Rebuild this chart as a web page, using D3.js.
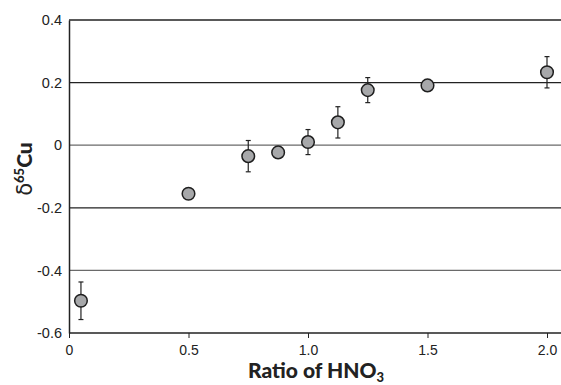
<!DOCTYPE html>
<html>
<head>
    <meta charset="utf-8">
    <script src="https://d3js.org/d3.v7.min.js"></script>
    <style>
        body { margin: 0; background: #fff; }
        text { font-family: "Liberation Sans", Arial, sans-serif; }
        .title { font-family: Lato, "DejaVu Sans", sans-serif; font-weight: 900; }
    </style>
</head>
<body>
<svg id="chart" width="561" height="385"></svg>
<script>
    // ratio of HNO3 vs delta65Cu
    const ratio = [0.05, 0.5, 0.75, 0.875, 1.0, 1.125, 1.25, 1.5, 2.0];
    const d65Cu = [-0.497, -0.155, -0.035, -0.023, 0.010, 0.073, 0.176, 0.191, 0.233];
    const errUp = [0.06, 0, 0.05, 0, 0.04, 0.05, 0.04, 0, 0.05];
    const errDn = [0.06, 0, 0.05, 0, 0.04, 0.05, 0.04, 0, 0.05];

    const xTicks = [0, 0.5, 1.0, 1.5, 2.0];
    const xTickLabels = ["0", "0.5", "1.0", "1.5", "2.0"];
    const yTicks = [-0.6, -0.4, -0.2, 0, 0.2, 0.4];
    const yTickLabels = ["-0.6", "-0.4", "-0.2", "0", "0.2", "0.4"];

    const svg = d3.select("#chart");
    const mLeft = 69, mTop = 20, mBottom = 333, mRight = 561;

    const x = d3.scaleLinear().domain([0, 2.0]).range([mLeft, 547]);
    const y = d3.scaleLinear().domain([-0.6, 0.4]).range([mBottom, mTop]);

    // horizontal grid lines
    svg.append("g").selectAll("line")
        .data(yTicks.filter(v => v > -0.6))
        .enter().append("line")
        .attr("x1", mLeft).attr("x2", mRight)
        .attr("y1", d => y(d)).attr("y2", d => y(d))
        .attr("stroke", d => (d === 0 || d === -0.4) ? "#6a6a6a" : "#222")
        .attr("stroke-width", 1.3);

    // x axis
    const xAxis = d3.axisBottom(x)
        .tickValues(xTicks)
        .tickFormat((d, i) => xTickLabels[i])
        .tickSize(5)
        .tickSizeOuter(0);
    const gx = svg.append("g").attr("transform", "translate(0," + mBottom + ")").call(xAxis);
    gx.select(".domain").attr("d", "M" + mLeft + ",0H" + mRight).attr("stroke", "#222").attr("stroke-width", 1.5);
    gx.selectAll(".tick line").attr("stroke", "#222");
    gx.selectAll(".tick text").attr("font-size", 14).attr("fill", "#222").attr("y", 12).attr("dy", "0.71em");

    // y axis
    const yAxis = d3.axisLeft(y)
        .tickValues(yTicks)
        .tickFormat((d, i) => yTickLabels[i])
        .tickSize(0)
        .tickPadding(7);
    const gy = svg.append("g").attr("transform", "translate(" + mLeft + ",0)").call(yAxis);
    gy.select(".domain").attr("stroke", "#222").attr("stroke-width", 1.5);
    gy.selectAll(".tick text").attr("font-size", 14.5).attr("fill", "#222");

    // error bars
    const eb = svg.append("g").attr("stroke", "#222").attr("stroke-width", 1.2);
    ratio.forEach((r, i) => {
        if (errUp[i] === 0 && errDn[i] === 0) return;
        const cx = x(r), y1 = y(d65Cu[i] + errUp[i]), y2 = y(d65Cu[i] - errDn[i]);
        eb.append("line").attr("x1", cx).attr("x2", cx).attr("y1", y1).attr("y2", y2);
        eb.append("line").attr("x1", cx - 2.5).attr("x2", cx + 2.5).attr("y1", y1).attr("y2", y1);
        eb.append("line").attr("x1", cx - 2.5).attr("x2", cx + 2.5).attr("y1", y2).attr("y2", y2);
    });

    // points
    svg.append("g").selectAll("circle")
        .data(ratio)
        .enter().append("circle")
        .attr("cx", d => x(d))
        .attr("cy", (d, i) => y(d65Cu[i]))
        .attr("r", 6.3)
        .attr("fill", "#a7a8aa")
        .attr("stroke", "#1e1e1e")
        .attr("stroke-width", 1.5);

    // x title
    const xt = svg.append("text").attr("class", "title")
        .attr("x", 316).attr("y", 378)
        .attr("text-anchor", "middle")
        .attr("font-size", 21).attr("fill", "#222");
    xt.append("tspan").text("Ratio of HNO");
    xt.append("tspan").attr("font-size", 13).attr("dy", 4).text("3");

    // y title
    const yt = svg.append("text").attr("class", "title")
        .attr("transform", "translate(32,169) rotate(-90)")
        .attr("text-anchor", "middle")
        .attr("font-size", 21).attr("fill", "#222");
    yt.append("tspan").attr("font-weight", "normal").attr("font-family", "DejaVu Sans").text("δ");
    yt.append("tspan").attr("font-size", 13).attr("dy", -8).text("65");
    yt.append("tspan").attr("dy", 8).text("Cu");
</script>
</body>
</html>
